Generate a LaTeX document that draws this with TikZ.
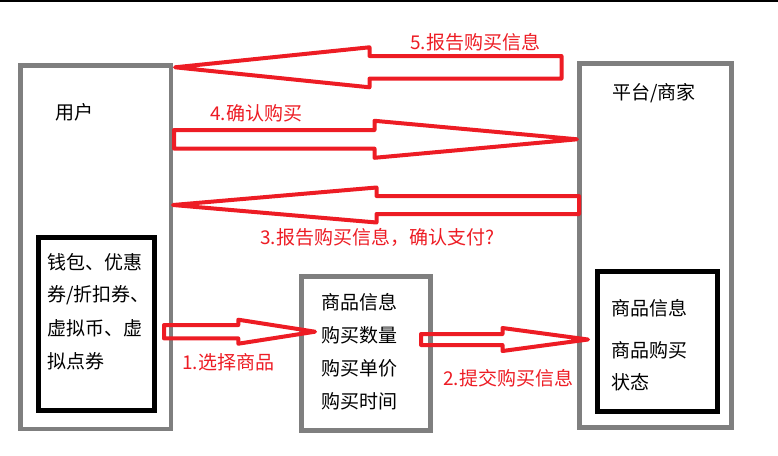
\documentclass[tikz,border=0pt]{standalone}
\usepackage{fontspec}
\newfontfamily\cjk{Noto Sans CJK SC}
\usetikzlibrary{calc}
\definecolor{boxgray}{RGB}{127,127,127}
\definecolor{paintred}{RGB}{237,28,36}

% hollow block arrow: tail, tip, shaft half-height, head half-height, head length
\newcommand{\fatarrow}[5]{%
  \draw[hollow arrow] let \p1=(#1), \p2=(#2), \p3=($(#2)!#5pt!(#1)$) in
    (\x1,\y1+#3pt) -- (\x3,\y1+#3pt) -- (\x3,\y1+#4pt) -- (\p2)
    -- (\x3,\y1-#4pt) -- (\x3,\y1-#3pt) -- (\x1,\y1-#3pt) -- cycle;
}

\begin{document}
\begin{tikzpicture}[x=1pt, y=-1pt,
  panel/.style={draw=boxgray, line width=4.5, inner sep=0},
  card/.style={draw=black, line width=5, inner sep=0},
  txt/.style={anchor=west, inner sep=0, font=\cjk\fontsize{19}{19}\selectfont},
  redtxt/.style={txt, text=paintred},
  hollow arrow/.style={draw=paintred, line width=4, line join=round}]
  \useasboundingbox (0,0) rectangle (778,455);
  % thin rule along the top edge
  \draw[line width=1.5] (0,0.75) -- (778,0.75);

  % the three parties
  \node[panel, minimum width=150.5, minimum height=363.5] (user) at (95.75,247.25) {};
  \node[card, minimum width=116, minimum height=173] (wallet) at (96.5,324) {};
  \node[panel, minimum width=129, minimum height=154] (order) at (366,353.5) {};
  \node[panel, minimum width=152, minimum height=364] (merchant) at (655.5,245.5) {};
  \node[card, minimum width=120, minimum height=140] (goods) at (657.5,341.5) {};

  \node[txt] (userlbl) at (55,112) {用户};
  \node[txt] (merchlbl) at (612,93) {平台/商家};
  \foreach \t [count=\i] in {钱包、优惠, 券/折扣券、, 虚拟币、虚, 拟点券} {
    \node[txt] (w\i) at (47,229+33*\i) {\t};
  }
  \foreach \t [count=\i] in {商品信息, 购买数量, 购买单价, 购买时间} {
    \node[txt] (o\i) at (321,269+33*\i) {\t};
  }
  \node[txt] (g1) at (611,308) {商品信息};
  \node[txt] (g2) at (611,350) {商品购买};
  \node[txt] (g3) at (611,382) {状态};

  % steps, as hollow red arrows
  \coordinate (a1tail) at (164,331.7);  \coordinate (a1tip) at (315,331.7);
  \coordinate (a2tail) at (421,339.5);  \coordinate (a2tip) at (588,339.5);
  \coordinate (a3tail) at (579,205);    \coordinate (a3tip) at (173,205);
  \coordinate (a4tail) at (174,139.3);  \coordinate (a4tip) at (577,139.3);
  \coordinate (a5tail) at (561.5,67.3); \coordinate (a5tip) at (175,67.3);
  \fatarrow{a1tail}{a1tip}{6.7}{12}{76.7}
  \fatarrow{a2tail}{a2tip}{5.5}{11.5}{85.5}
  \fatarrow{a3tail}{a3tip}{9}{17.5}{203.5}
  \fatarrow{a4tail}{a4tip}{9.3}{18.5}{202.5}
  \fatarrow{a5tail}{a5tip}{11.3}{20}{194.5}

  \node[redtxt] (lab1) at (182,362) {1.选择商品};
  \node[redtxt] (lab2) at (443,378) {2.提交购买信息};
  \node[redtxt] (lab3) at (260,237) {3.报告购买信息，确认支付?};
  \node[redtxt] (lab4) at (210,113) {4.确认购买};
  \node[redtxt] (lab5) at (410,42) {5.报告购买信息};
\end{tikzpicture}
\end{document}
